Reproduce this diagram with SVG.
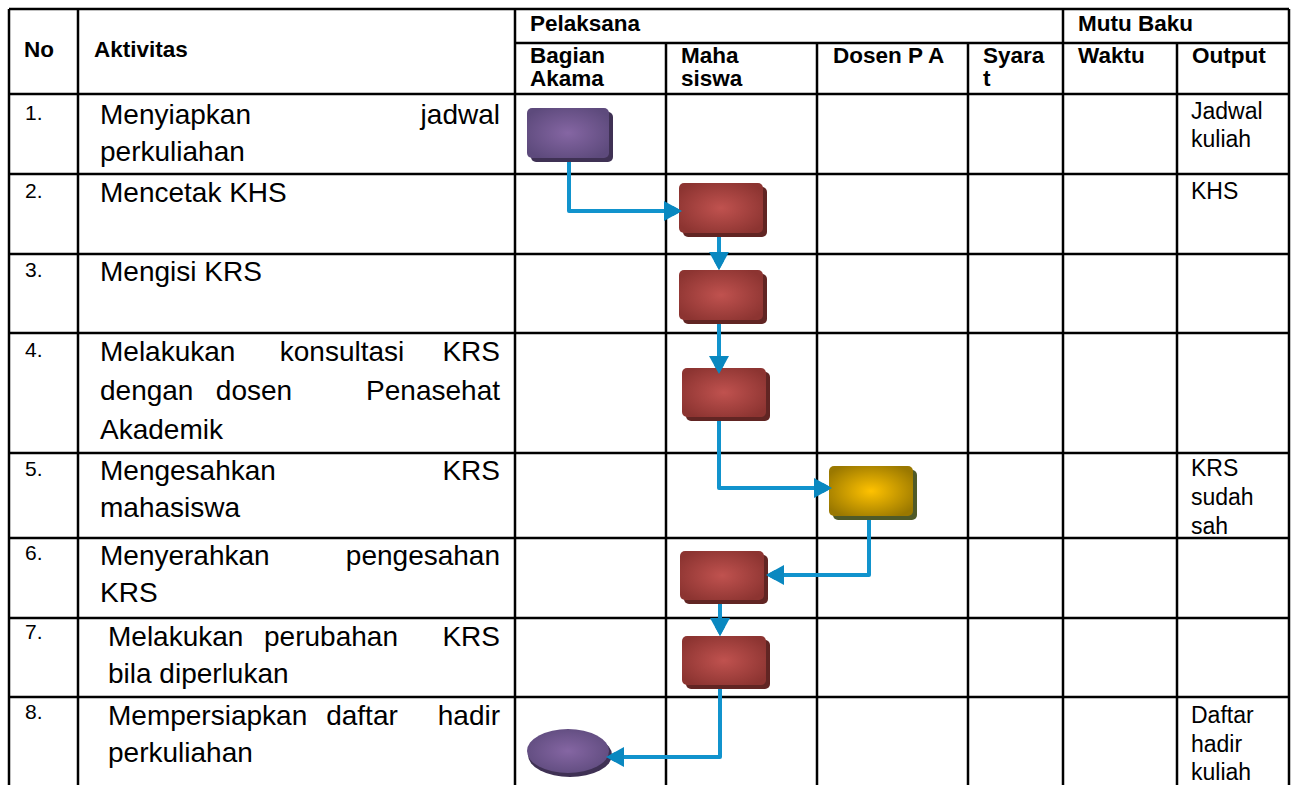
<svg xmlns="http://www.w3.org/2000/svg" width="1293" height="785" viewBox="0 0 1293 785">
<style>
.grid{stroke:#000;stroke-width:2.5;fill:none}
.h{font-family:"Liberation Sans",Arial,sans-serif;font-weight:bold;font-size:22.5px;fill:#000}
.b{font-family:"Liberation Sans",Arial,sans-serif;font-size:28px;fill:#000}
.n{font-family:"Liberation Sans",Arial,sans-serif;font-size:21px;fill:#000}
.o{font-family:"Liberation Sans",Arial,sans-serif;font-size:23px;fill:#000}
.conn{fill:none;stroke:#1193cd;stroke-width:4;stroke-linejoin:round}
</style>
<defs>
<radialGradient id="gP" cx="0.5" cy="0.5" r="0.6"><stop offset="0" stop-color="#8566a3"/><stop offset="1" stop-color="#5d4a7c"/></radialGradient>
<radialGradient id="gR" cx="0.5" cy="0.5" r="0.6"><stop offset="0" stop-color="#c0524f"/><stop offset="1" stop-color="#8c3431"/></radialGradient>
<radialGradient id="gY" cx="0.5" cy="0.5" r="0.6"><stop offset="0" stop-color="#ffc200"/><stop offset="1" stop-color="#9a7800"/></radialGradient>
</defs>
<rect width="1293" height="785" fill="#fff"/>
<g id="table">
<path class="grid" d="M9,9 H1289 M515,43 H1289 M9,94 H1289 M9,174 H1289 M9,254 H1289 M9,333 H1289 M9,453 H1289 M9,538 H1289 M9,618 H1289 M9,697 H1289"/>
<path class="grid" d="M9,9 V785 M78,9 V785 M515,9 V785 M666,43 V785 M817,43 V785 M968,43 V785 M1063,9 V785 M1177,43 V785 M1289,9 V785"/>
<text class="h" x="24" y="57">No</text>
<text class="h" x="94" y="57">Aktivitas</text>
<text class="h" x="530" y="31">Pelaksana</text>
<text class="h" x="1078" y="31">Mutu Baku</text>
<text class="h" x="530" y="63">Bagian</text>
<text class="h" x="530" y="86">Akama</text>
<text class="h" x="681" y="63">Maha</text>
<text class="h" x="681" y="86">siswa</text>
<text class="h" x="833" y="63">Dosen P A</text>
<text class="h" x="983" y="63">Syara</text>
<text class="h" x="983" y="86">t</text>
<text class="h" x="1078" y="63">Waktu</text>
<text class="h" x="1192" y="63">Output</text>
</g>
<g id="numbers">
<text class="n" x="25" y="120">1.</text>
<text class="n" x="25" y="198">2.</text>
<text class="n" x="25" y="277">3.</text>
<text class="n" x="25" y="357">4.</text>
<text class="n" x="25" y="476">5.</text>
<text class="n" x="25" y="560">6.</text>
<text class="n" x="25" y="639">7.</text>
<text class="n" x="25" y="719">8.</text>
</g>
<g id="activities">
<text class="b" x="100" y="124">Menyiapkan</text><text class="b" x="500" y="124" text-anchor="end">jadwal</text>
<text class="b" x="100" y="161">perkuliahan</text>
<text class="b" x="100" y="202">Mencetak KHS</text>
<text class="b" x="100" y="281">Mengisi KRS</text>
<text class="b" x="100" y="361">Melakukan</text><text class="b" x="342" y="361" text-anchor="middle">konsultasi</text><text class="b" x="500" y="361" text-anchor="end">KRS</text>
<text class="b" x="100" y="400">dengan</text><text class="b" x="254" y="400" text-anchor="middle">dosen</text><text class="b" x="500" y="400" text-anchor="end">Penasehat</text>
<text class="b" x="100" y="439">Akademik</text>
<text class="b" x="100" y="480">Mengesahkan</text><text class="b" x="500" y="480" text-anchor="end">KRS</text>
<text class="b" x="100" y="517">mahasiswa</text>
<text class="b" x="100" y="565">Menyerahkan</text><text class="b" x="500" y="565" text-anchor="end">pengesahan</text>
<text class="b" x="100" y="602">KRS</text>
<text class="b" x="108" y="646">Melakukan</text><text class="b" x="331" y="646" text-anchor="middle">perubahan</text><text class="b" x="500" y="646" text-anchor="end">KRS</text>
<text class="b" x="108" y="683">bila diperlukan</text>
<text class="b" x="108" y="725">Mempersiapkan</text><text class="b" x="362" y="725" text-anchor="middle">daftar</text><text class="b" x="500" y="725" text-anchor="end">hadir</text>
<text class="b" x="108" y="762">perkuliahan</text>
</g>
<g id="outputs">
<text class="o" x="1191" y="119">Jadwal</text>
<text class="o" x="1191" y="147">kuliah</text>
<text class="o" x="1191" y="199">KHS</text>
<text class="o" x="1191" y="476">KRS</text>
<text class="o" x="1191" y="505">sudah</text>
<text class="o" x="1191" y="534">sah</text>
<text class="o" x="1191" y="723">Daftar</text>
<text class="o" x="1191" y="752">hadir</text>
<text class="o" x="1191" y="780">kuliah</text>
</g>
<g id="connectors">
<path class="conn" d="M569,158 V211 H668"/>
<path class="conn" d="M719,235 V256"/>
<path class="conn" d="M719,322 V360"/>
<path class="conn" d="M719,419 V488 H818"/>
<path class="conn" d="M869,518 V575 H780"/>
<path class="conn" d="M720,602 V622"/>
<path class="conn" d="M720,687 V757 H620"/>
<path d="M664,201 L682,211 L664,221 z" fill="#0a88c0"/>
<path d="M709,252 L719,270 L729,252 z" fill="#0a88c0"/>
<path d="M709,356 L719,374 L729,356 z" fill="#0a88c0"/>
<path d="M814,478 L832,488 L814,498 z" fill="#0a88c0"/>
<path d="M784,565 L766,575 L784,585 z" fill="#0a88c0"/>
<path d="M710,618 L720,636 L730,618 z" fill="#0a88c0"/>
<path d="M624,747 L606,757 L624,767 z" fill="#0a88c0"/>
</g>
<g id="n1"><rect x="531" y="112" width="82" height="50" rx="5" fill="#3f3154"/><rect x="527" y="108" width="82" height="50" rx="5" fill="url(#gP)"/></g>
<g id="n2"><rect x="683" y="187" width="84" height="50" rx="5" fill="#612523"/><rect x="679" y="183" width="84" height="50" rx="5" fill="url(#gR)"/></g>
<g id="n3"><rect x="683" y="274" width="84" height="50" rx="5" fill="#612523"/><rect x="679" y="270" width="84" height="50" rx="5" fill="url(#gR)"/></g>
<g id="n4"><rect x="686" y="372" width="84" height="49" rx="5" fill="#612523"/><rect x="682" y="368" width="84" height="49" rx="5" fill="url(#gR)"/></g>
<g id="n5"><rect x="833" y="470" width="84" height="50" rx="5" fill="#4f5a28"/><rect x="829" y="466" width="84" height="50" rx="5" fill="url(#gY)"/></g>
<g id="n6"><rect x="684" y="555" width="84" height="49" rx="5" fill="#612523"/><rect x="680" y="551" width="84" height="49" rx="5" fill="url(#gR)"/></g>
<g id="n7"><rect x="686" y="640" width="84" height="49" rx="5" fill="#612523"/><rect x="682" y="636" width="84" height="49" rx="5" fill="url(#gR)"/></g>
<g id="n8"><ellipse cx="570" cy="755" rx="42" ry="22" fill="#3f3154"/><ellipse cx="568" cy="751" rx="41" ry="22" fill="url(#gP)"/></g>
<g id="arrowtips">
<path d="M673,206 L682,211 L673,216 z" fill="#0a88c0"/>
<path d="M714,261 L719,270 L724,261 z" fill="#0a88c0"/>
<path d="M714,365 L719,374 L724,365 z" fill="#0a88c0"/>
<path d="M823,483 L832,488 L823,493 z" fill="#0a88c0"/>
<path d="M775,570 L766,575 L775,580 z" fill="#0a88c0"/>
<path d="M715,627 L720,636 L725,627 z" fill="#0a88c0"/>
<path d="M615,752 L606,757 L615,762 z" fill="#0a88c0"/>
</g>
</svg>
